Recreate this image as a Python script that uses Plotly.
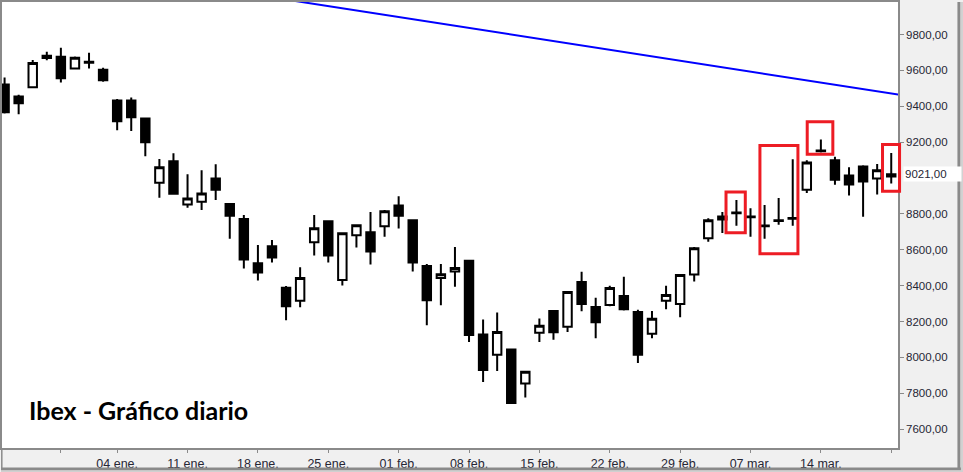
import plotly.graph_objects as go
import pandas as pd

# ---------------- data ----------------
HOLIDAYS = ["2015-12-25", "2016-01-01"]
DATES = [d.strftime("%Y-%m-%d") for d in pd.bdate_range("2015-12-21", "2016-03-21")
         if d.strftime("%Y-%m-%d") not in HOLIDAYS]

OPEN = [9522, 9454, 9506, 9669, 9676, 9611, 9648, 9604,
        9432, 9432, 9332, 8973, 9093, 8853, 8867, 8997, 8855, 8771, 8525, 8620,
        8388, 8315, 8642, 8759, 8431, 8681, 8698, 8731, 8847, 8764,
        8510, 8442, 8479, 8538, 8128, 8015, 8044, 7854, 8137, 8259,
        8170, 8420, 8281, 8292, 8342, 8253, 8131, 8315, 8298, 8462,
        8664, 8786, 8803, 8785, 8735, 8760, 8777, 8934, 9149, 9099,
        9014, 9064, 8997, 9008]
HIGH = [9560, 9464, 9658, 9704, 9726, 9678, 9698, 9615,
        9441, 9449, 9335, 9106, 9138, 9021, 9043, 9077, 8860, 8794, 8627, 8655,
        8398, 8503, 8794, 8762, 8698, 8740, 8810, 8822, 8899, 8770,
        8521, 8521, 8616, 8544, 8211, 8250, 8050, 7925, 8216, 8262,
        8370, 8477, 8333, 8399, 8449, 8265, 8259, 8399, 8464, 8616,
        8775, 8810, 8877, 8832, 8849, 8888, 9104, 9099, 9215, 9119,
        9060, 9071, 9078, 9139]
LOW = [9360, 9356, 9500, 9656, 9532, 9606, 9611, 9537,
       9267, 9262, 9121, 8890, 8910, 8834, 8821, 8877, 8662, 8495, 8429, 8529,
       8207, 8279, 8568, 8529, 8401, 8612, 8518, 8673, 8718, 8479,
       8179, 8290, 8394, 8085, 7863, 7924, 7740, 7776, 8085, 8098,
       8142, 8257, 8107, 8285, 8261, 7968, 8107, 8268, 8224, 8423,
       8645, 8694, 8734, 8673, 8662, 8740, 8734, 8916, 9142, 8962,
       8903, 8784, 8908, 8970]
CLOSE = [9367, 9417, 9641, 9682, 9556, 9671, 9643, 9545,
         9317, 9339, 9200, 9060, 8912, 8886, 8914, 8934, 8790, 8545, 8473, 8557,
         8285, 8442, 8720, 8568, 8692, 8736, 8590, 8814, 8790, 8529,
         8318, 8464, 8498, 8124, 7929, 8142, 7746, 7920, 8176, 8140,
         8365, 8298, 8196, 8387, 8268, 8015, 8215, 8348, 8459, 8609,
         8764, 8768, 8808, 8781, 8731, 8764, 8773, 9086, 9153, 8990,
         8964, 8981, 9043, 9021]

TICK_DATES = ["2015-12-28", "2016-01-04", "2016-01-11", "2016-01-18", "2016-01-25",
              "2016-02-01", "2016-02-08", "2016-02-15", "2016-02-22", "2016-02-29",
              "2016-03-07", "2016-03-14", "2016-03-21"]
TICK_LABELS = ["", "04 ene.", "11 ene.", "18 ene.", "25 ene.", "01 feb.", "08 feb.",
               "15 feb.", "22 feb.", "29 feb.", "07 mar.", "14 mar.", ""]

# 9000 is hidden behind the last-price label in the original
Y_TICKS = [7600, 7800, 8000, 8200, 8400, 8600, 8800, 9200, 9400, 9600, 9800]
LAST_PRICE = 9021

# trend line anchors (bar index, price)
TREND_X = [15, 63.5]
TREND_Y = [10056, 9465]

# highlight boxes (bar index / price)
BOX_X0 = [51.26, 53.67, 57.03, 62.38]
BOX_X1 = [52.63, 56.37, 58.85, 63.59]
BOX_Y0 = [8695, 8578, 9133, 8926]
BOX_Y1 = [8922, 9181, 9314, 9187]

TITLE = "Ibex - Gráfico diario"

# ---------------- figure ----------------
W, H = 963, 472
ML, MR, MT, MB = 1, 65, 0, 24
PW, PH = W - ML - MR, H - MT - MB
XR = [-0.183, 63.48]
YR = [7494.5, 9981.5]

xs = list(range(len(DATES)))
tickvals = [DATES.index(d) for d in TICK_DATES]

fig = go.Figure()
fig.add_trace(go.Candlestick(
    x=xs, open=OPEN, high=HIGH, low=LOW, close=CLOSE,
    increasing=dict(line=dict(color="black", width=2), fillcolor="white"),
    decreasing=dict(line=dict(color="black", width=2), fillcolor="black"),
    whiskerwidth=0, hoverinfo="skip", showlegend=False,
))
fig.add_trace(go.Scatter(
    x=TREND_X, y=TREND_Y, mode="lines",
    line=dict(color="#0000ff", width=2), hoverinfo="skip", showlegend=False,
))

def px_x(v):
    return (v - XR[0]) / (XR[1] - XR[0])

def px_y(v):
    return (v - YR[0]) / (YR[1] - YR[0])

shapes = []
for x0, x1, y0, y1 in zip(BOX_X0, BOX_X1, BOX_Y0, BOX_Y1):
    shapes.append(dict(type="rect", xref="paper", yref="paper",
                       x0=px_x(x0), x1=px_x(x1), y0=px_y(y0), y1=px_y(y1),
                       line=dict(color="#ed1c24", width=3), fillcolor="rgba(0,0,0,0)"))

def pxl(p):
    return (p - ML) / PW

def pyl(p):
    return (H - MB - p) / PH

# outer window frame
shapes += [
    dict(type="line", xref="paper", yref="paper", x0=pxl(959), x1=pxl(959), y0=pyl(0), y1=pyl(470),
         line=dict(color="#8a8a8a", width=3)),
    dict(type="line", xref="paper", yref="paper", x0=pxl(0), x1=pxl(961), y0=pyl(469), y1=pyl(469),
         line=dict(color="#8a8a8a", width=3)),
    dict(type="line", xref="paper", yref="paper", x0=pxl(962), x1=pxl(962), y0=pyl(0), y1=pyl(472),
         line=dict(color="#d0d0d0", width=2)),
    dict(type="line", xref="paper", yref="paper", x0=pxl(0), x1=pxl(963), y0=pyl(471.5), y1=pyl(471.5),
         line=dict(color="#d0d0d0", width=2)),
    dict(type="line", xref="paper", yref="paper", x0=pxl(0.8), x1=pxl(0.8), y0=pyl(448), y1=pyl(470),
         line=dict(color="#8a8a8a", width=1.5)),
]

axis_font = dict(family="Liberation Sans, Arial, sans-serif", size=11.5, color="#262634")

fig.update_layout(
    width=W, height=H, autosize=False,
    margin=dict(l=ML, r=MR, t=MT, b=MB, pad=0),
    paper_bgcolor="#f0f0f0", plot_bgcolor="white",
    separators=",.",
    boxgap=0.4, boxgroupgap=0,
    shapes=shapes,
    xaxis=dict(range=XR, tickvals=tickvals, ticktext=TICK_LABELS,
               ticks="outside", ticklen=3, tickcolor="#8a8a8a", tickfont=dict(axis_font, size=12.5),
               showgrid=False, zeroline=False, showline=True, linecolor="#8a8a8a",
               linewidth=1.5, mirror=True, rangeslider=dict(visible=False), fixedrange=True),
    yaxis=dict(range=YR, side="right", tickvals=Y_TICKS, tickformat=".2f",
               ticks="outside", ticklen=4, tickcolor="#8a8a8a", tickfont=axis_font,
               showgrid=False, zeroline=False, showline=True, linecolor="#8a8a8a",
               linewidth=1.5, mirror=True, fixedrange=True),
    annotations=[
        dict(x=1, xref="paper", y=LAST_PRICE, yref="y", xanchor="left", yanchor="middle",
             xshift=5, text=f"{LAST_PRICE},00", showarrow=False, bgcolor="white",
             width=55, height=12, borderpad=1, align="left", font=axis_font),
        dict(x=pxl(26), xref="paper", y=pyl(409.5), yref="paper", xanchor="left", yanchor="middle",
             text=TITLE, showarrow=False,
             font=dict(family="Lato, sans-serif", size=25, color="black", weight="bold")),
    ],
)

fig.write_html("out.html", config=dict(displayModeBar=False))
